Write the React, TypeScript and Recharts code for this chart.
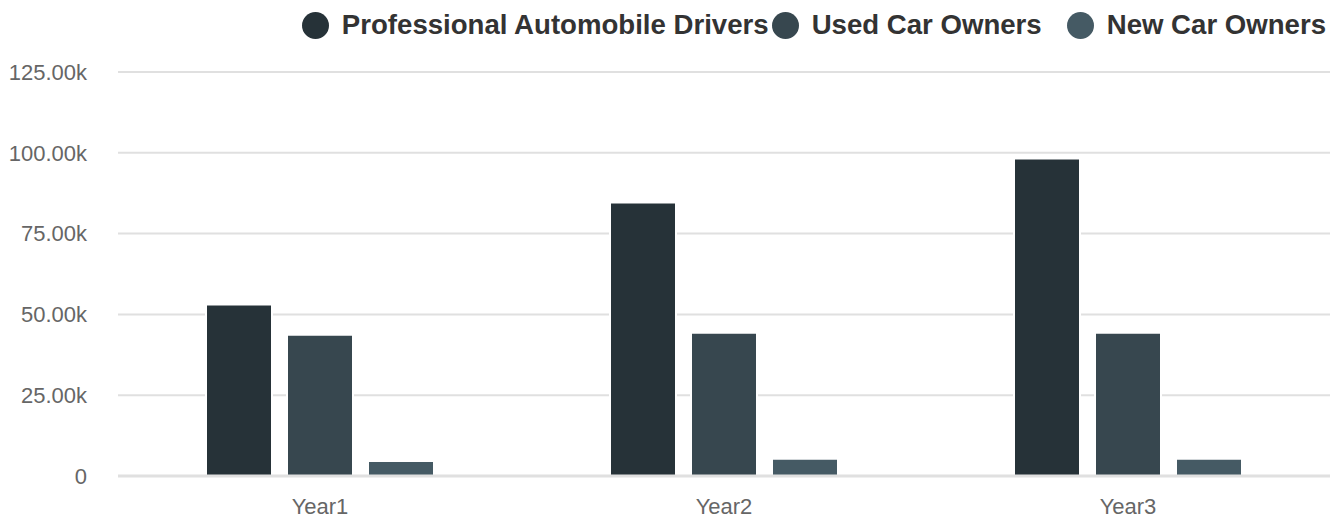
import React from "react";
import {
  BarChart,
  Bar,
  XAxis,
  YAxis,
  CartesianGrid,
  Legend,
} from "recharts";

const YEARS = ["Year1", "Year2", "Year3"];
const PRO_DRIVERS = [53100, 84600, 98200];
const USED_OWNERS = [43700, 44300, 44300];
const NEW_OWNERS = [4650, 5300, 5300];
const Y_TICKS = [0, 25000, 50000, 75000, 100000, 125000];

const SERIES = [
  { key: "pro", name: "Professional Automobile Drivers", color: "#263238" },
  { key: "used", name: "Used Car Owners", color: "#37474F" },
  { key: "fresh", name: "New Car Owners", color: "#455A64" },
];

const FONT = '"Liberation Sans", Arial, Helvetica, sans-serif';

const rows = YEARS.map((year, i) => ({
  year,
  pro: PRO_DRIVERS[i],
  used: USED_OWNERS[i],
  fresh: NEW_OWNERS[i],
}));

const fmtK = (v: number) => (v === 0 ? "0" : `${(v / 1000).toFixed(2)}k`);

// spacing before each legend entry
const LEGEND_GAPS = [0, 3, 25];

function LegendRow() {
  return (
    <div
      style={{
        height: 50,
        display: "flex",
        alignItems: "center",
        justifyContent: "flex-end",
        paddingRight: 16,
        fontFamily: FONT,
      }}
    >
      {SERIES.map((s, i) => (
        <span
          key={s.key}
          style={{ display: "flex", alignItems: "center", marginLeft: LEGEND_GAPS[i] }}
        >
          <span
            style={{
              width: 27,
              height: 27,
              borderRadius: "50%",
              background: s.color,
              display: "inline-block",
              marginRight: 13,
            }}
          />
          <span style={{ fontSize: 27.6, fontWeight: 700, color: "#333" }}>{s.name}</span>
        </span>
      ))}
    </div>
  );
}

export default function App() {
  return (
    <div style={{ position: "absolute", left: 0, top: 0, background: "#fff" }}>
      <BarChart
        width={1342}
        height={519}
        data={rows}
        margin={{ top: 22, right: 12, bottom: 13, left: 0 }}
        barSize={66}
        barGap={15}
      >
        <CartesianGrid vertical={false} stroke="#e0e0e0" strokeWidth={2} />
        <XAxis
          dataKey="year"
          height={30}
          tickLine={false}
          tickSize={0}
          tickMargin={22}
          axisLine={{ stroke: "#e0e0e0", strokeWidth: 3 }}
          tick={{ fontSize: 22, fill: "#666", fontFamily: FONT }}
        />
        <YAxis
          width={118}
          domain={[0, 125000]}
          ticks={Y_TICKS}
          tickFormatter={fmtK}
          axisLine={false}
          tickLine={false}
          tickSize={0}
          tickMargin={31}
          tick={{ fontSize: 22, fill: "#666", fontFamily: FONT }}
        />
        <Legend
          verticalAlign="top"
          align="right"
          wrapperStyle={{ top: 0, left: 0, width: 1342 }}
          content={() => <LegendRow />}
        />
        {SERIES.map((s) => (
          <Bar
            key={s.key}
            dataKey={s.key}
            name={s.name}
            fill={s.color}
            stroke="#fff"
            strokeWidth={2}
            isAnimationActive={false}
          />
        ))}
      </BarChart>
    </div>
  );
}
